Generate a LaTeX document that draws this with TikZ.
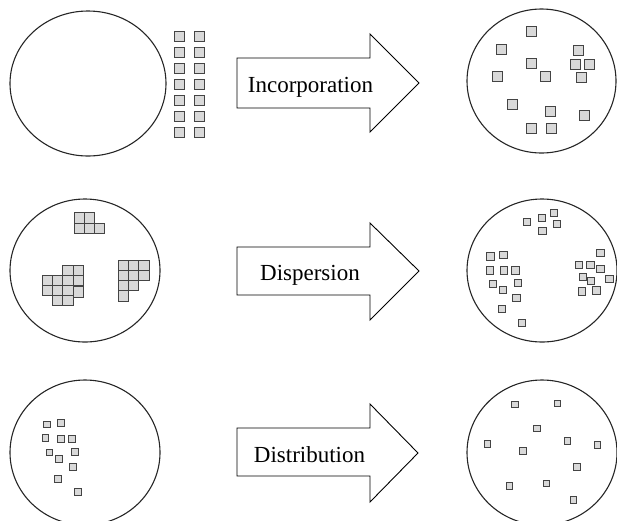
\documentclass[tikz,border=0pt]{standalone}
\usepackage{fontspec}
\setmainfont{Liberation Serif}
\definecolor{ptFill}{HTML}{D9D9D9}
\definecolor{ptEdge}{HTML}{444444}
\definecolor{matEdge}{HTML}{262626}
\usetikzlibrary{positioning}

\tikzset{
  particle/.style={draw=ptEdge, fill=ptFill, line width=1pt},
  small particle/.style={particle, line width=0.85pt},
  matrix body/.style={draw=matEdge, line width=1.1pt},
  process arrow/.style={draw=black, line width=0.9pt, fill=white},
  process text/.style={font=\fontsize{23}{27}\selectfont, anchor=base, inner sep=0pt},
}

\begin{document}
\begin{tikzpicture}[x=1pt, y=-1pt]
  \useasboundingbox (0,0) rectangle (617,520);

  % Row 1: incorporation
  \draw[matrix body] (88,83.5) ellipse [x radius=78pt, y radius=72.5pt];
  \foreach \k in {0,...,6} {
    \draw[particle] (174,31+16*\k) rectangle ++(10.5,10.5);
    \draw[particle] (194,31+16*\k) rectangle ++(10.5,10.5);
  }

  \draw[process arrow] (237,58) -- (370,58) -- (370,34) -- (419,83)
    -- (370,132) -- (370,108) -- (237,108) -- cycle;
  \node[process text] (incorp) at (310.5,92) {Incorporation};

  \draw[matrix body] (541.5,81) ellipse [x radius=74.5pt, y radius=72pt];
  \foreach \x/\y in {526.7/26, 496.7/44, 573.3/45, 526.7/58.3, 570/59, 584/59,
                     492.7/71.7, 540/71.7, 576.7/72.7, 507.7/99.3, 545.3/106.7,
                     579/110.3, 526.7/123.3, 546/123.3}
    \draw[particle] (\x,\y) rectangle ++(10,10);

  % Row 2: dispersion
  \draw[matrix body] (85,270.5) ellipse [x radius=75pt, y radius=71.5pt];
  % agglomerates, top
  \foreach \x/\y in {74/212.7, 84.3/212.7, 74/223, 84.3/223, 94.6/223}
    \draw[particle] (\x,\y) rectangle ++(10.3,10.3);
  % agglomerates, left
  \foreach \x/\y in {62.7/265.7, 73/265.7,
                     42/275.5, 52.3/275.5, 62.7/275.5, 73/275.5,
                     42/285.3, 52.3/285.3, 62.7/285.3, 73.5/286.8,
                     52.3/295, 62.7/295}
    \draw[particle] (\x,\y) rectangle ++(10.3,10.3);
  % agglomerates, right
  \foreach \x/\y in {118.3/260, 128.6/260, 138.9/260,
                     118.3/270.3, 128.6/270.3, 138.9/270.3,
                     118.3/280.6, 128.6/280.6,
                     118.3/290.9}
    \draw[particle] (\x,\y) rectangle ++(10.3,10.3);

  \draw[process arrow] (237,247) -- (370,247) -- (370,223) -- (419,271)
    -- (370,320) -- (370,295) -- (237,295) -- cycle;
  \node[process text] (disp) at (310,280) {Dispersion};

  \draw[matrix body] (542,270.5) ellipse [x radius=75pt, y radius=71.5pt];
  \foreach \x/\y in {523.3/218.3, 538/214, 550/209, 553.3/220, 538.7/227.3,
                     486.7/252.7, 499.7/251, 486/266.7, 500.3/266.7, 511.7/266.7,
                     489.3/280, 499/286, 514.3/279.3, 512.7/294.3, 498/305, 518.3/319,
                     596.7/249.3, 575.3/261, 586.7/261, 596.7/265.3, 579.3/273.3,
                     587.3/277.3, 605.7/275, 578.3/287.7, 592.7/286.7}
    \draw[small particle] (\x,\y) rectangle ++(7.3,7.3);

  % Row 3: distribution
  \draw[matrix body] (85,452.5) ellipse [x radius=75pt, y radius=72.5pt];
  \foreach \x/\y in {43.3/421, 57.3/419.3, 42/434.3, 57.3/435.3, 68.3/435.3,
                     46/449, 55.3/455.7, 71.3/448.7, 69.7/463.3, 54.3/475.3, 74.7/488.7}
    \draw[small particle] (\x,\y) rectangle ++(6.8,6.8);

  \draw[process arrow] (237,428) -- (370,428) -- (370,404) -- (418,453)
    -- (370,502) -- (370,476) -- (237,476) -- cycle;
  \node[process text] (distr) at (309.5,462) {Distribution};

  \draw[matrix body] (542,452.5) ellipse [x radius=75pt, y radius=72.5pt];
  \foreach \x/\y in {511.7/401, 554/400, 533.3/425, 564/437.3, 484/440.7,
                     519.3/447.3, 594/441.7, 573.3/463.3, 506/482.3, 543/480, 570/496.7}
    \draw[small particle] (\x,\y) rectangle ++(6.8,6.8);

\end{tikzpicture}
\end{document}
